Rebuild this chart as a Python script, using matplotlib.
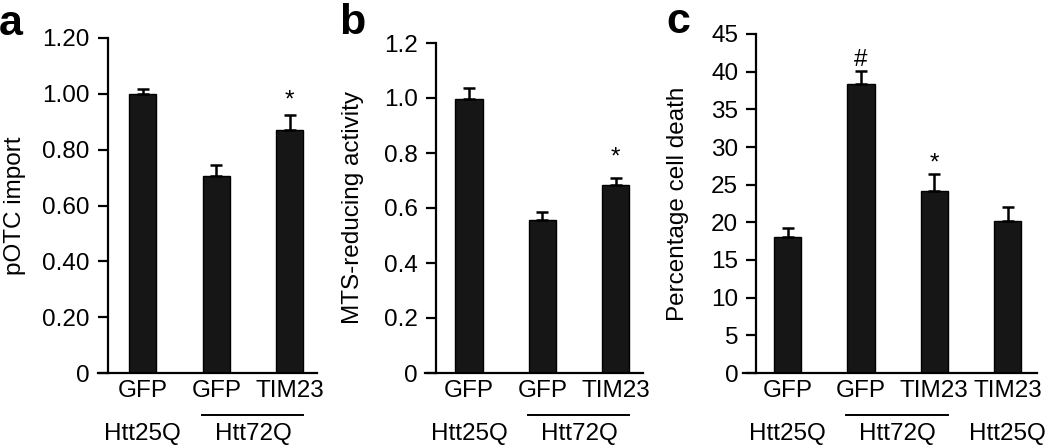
import matplotlib.pyplot as plt
import matplotlib.transforms as mtransforms

plt.rcParams['font.family'] = ['Liberation Sans', 'DejaVu Sans']

# panel a
a_labels = ["GFP", "GFP", "TIM23"]
a_values = [1.00, 0.707, 0.869]
a_errors = [0.018, 0.039, 0.056]
a_marks = ["", "", "*"]
a_ticks = [0, 0.2, 0.4, 0.6, 0.8, 1.0, 1.2]
a_ticklabels = ["0", "0.20", "0.40", "0.60", "0.80", "1.00", "1.20"]

# panel b
b_labels = ["GFP", "GFP", "TIM23"]
b_values = [0.996, 0.558, 0.682]
b_errors = [0.039, 0.029, 0.027]
b_marks = ["", "", "*"]
b_ticks = [0, 0.2, 0.4, 0.6, 0.8, 1.0, 1.2]
b_ticklabels = ["0", "0.2", "0.4", "0.6", "0.8", "1.0", "1.2"]

# panel c
c_labels = ["GFP", "GFP", "TIM23", "TIM23"]
c_values = [18.1, 38.3, 24.1, 20.2]
c_errors = [1.2, 1.8, 2.3, 1.9]
c_marks = ["", "#", "*", ""]
c_ticks = [0, 5, 10, 15, 20, 25, 30, 35, 40, 45]
c_ticklabels = [str(t) for t in c_ticks]

# group rows: (label, first bar, last bar, underline?)
ab_groups = [("Htt25Q", 0, 0, False), ("Htt72Q", 1, 2, True)]
c_groups = [("Htt25Q", 0, 0, False), ("Htt72Q", 1, 2, True), ("Htt25Q", 3, 3, False)]

W, H = 1050, 446
fig = plt.figure(figsize=(W / 100, H / 100), dpi=100)

FS = 17.5
BAR_W = 0.37


def px_axes(l, r, t, b):
    return fig.add_axes([l / W, 1 - b / H, (r - l) / W, (b - t) / H])


def panel(ax, labels, values, errors, marks, ticks, ticklabels, groups,
          xlim, yspine, ylabel, ylabel_x, letter, letter_xy, star_off):
    n = len(values)
    x = list(range(n))
    ax.bar(x, values, width=BAR_W, color="#161616", edgecolor="black", lw=1)
    ax.errorbar(x, values, yerr=[[0] * n, errors], fmt="none", ecolor="black",
                elinewidth=1.8, capsize=4.5, capthick=1.8)
    for xi, v, e, m in zip(x, values, errors, marks):
        if m:
            ax.annotate(m, (xi, v + e), xytext=(0, star_off[m]), textcoords="offset points",
                        ha="center", va="bottom", fontsize=FS)
    ax.set_xlim(*xlim)
    ax.set_ylim(ticks[0], ticks[-1])
    ax.set_yticks(ticks)
    ax.set_yticklabels(ticklabels)
    ax.set_xticks(x)
    ax.set_xticklabels(labels)
    for s in ["top", "right"]:
        ax.spines[s].set_visible(False)
    ax.spines["left"].set_position(("data", yspine))
    ax.spines["left"].set_linewidth(1.6)
    ax.spines["bottom"].set_linewidth(1.6)
    ax.tick_params(axis="y", length=7, width=1.6, pad=6, labelsize=FS)
    ax.tick_params(axis="x", length=0, pad=5, labelsize=FS)
    ax.set_ylabel(ylabel, fontsize=FS)
    ax.yaxis.set_label_coords(ylabel_x, 0.5)

    trans = mtransforms.blended_transform_factory(ax.transData, ax.transAxes)
    line_t = mtransforms.offset_copy(trans, fig=fig, y=-30, units="points")
    text_t = mtransforms.offset_copy(trans, fig=fig, y=-44, units="points")
    for name, i0, i1, under in groups:
        ax.text((i0 + i1) / 2, 0, name, transform=text_t, ha="center", va="center",
                fontsize=FS, clip_on=False)
        if under:
            ax.plot([i0 - 0.2, i1 + 0.18], [0, 0], transform=line_t, color="black",
                    lw=1.4, clip_on=False)
    fig.text(letter_xy[0] / W, 1 - letter_xy[1] / H, letter, fontsize=31,
             fontweight="bold", ha="left", va="baseline")


ax_a = px_axes(98, 317, 38, 373)
panel(ax_a, a_labels, a_values, a_errors, a_marks, a_ticks, a_ticklabels, ab_groups,
      (-0.61, 2.37), -0.476, "pOTC import", -0.329, "a", (-1, 35), {"*": 2, "#": 2})

ax_b = px_axes(425, 643, 43, 373)
panel(ax_b, b_labels, b_values, b_errors, b_marks, b_ticks, b_ticklabels, ab_groups,
      (-0.60, 2.37), -0.45, "MTS-reducing activity", -0.28, "b", (339, 34), {"*": 7, "#": 2})

ax_c = px_axes(743, 1037, 34, 373)
panel(ax_c, c_labels, c_values, c_errors, c_marks, c_ticks, c_ticklabels, c_groups,
      (-0.61, 3.40), -0.43, "Percentage cell death", -0.184, "c", (666, 33), {"*": 0, "#": 0})

fig.savefig("out.png", dpi=100)
